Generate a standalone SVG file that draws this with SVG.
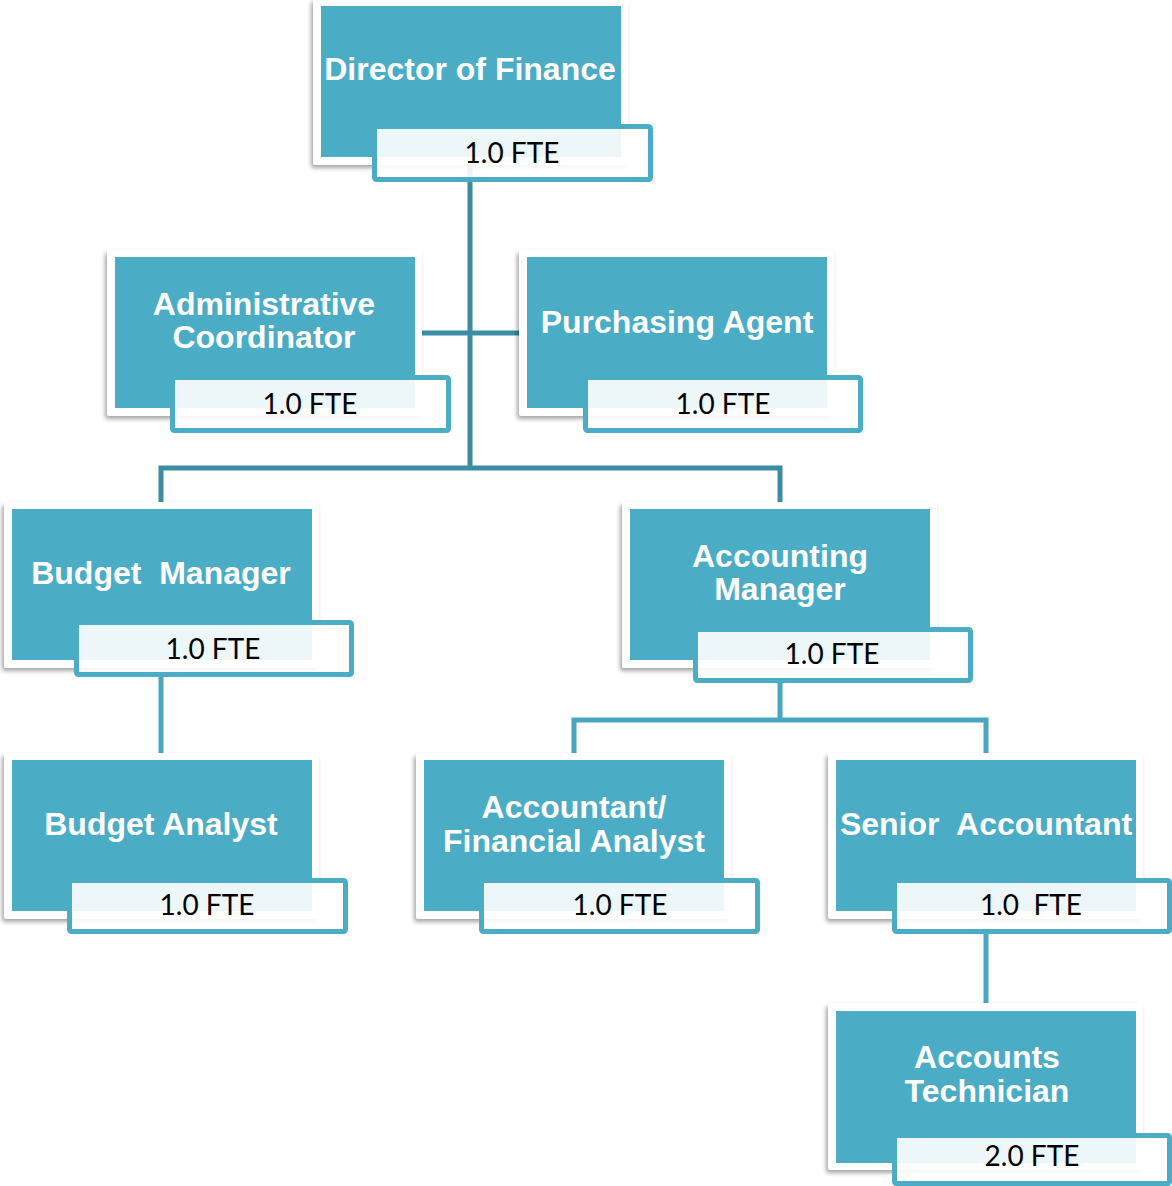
<svg xmlns="http://www.w3.org/2000/svg" width="1172" height="1186" viewBox="0 0 1172 1186">
<defs>
<filter id="sh" x="-10%" y="-10%" width="120%" height="125%">
<feDropShadow dx="-2" dy="3" stdDeviation="2" flood-color="#000" flood-opacity="0.35"/>
</filter>
<style>
.card{fill:#ffffff;filter:url(#sh)}
.teal{fill:#4BACC6}
.fte{fill:#ffffff;fill-opacity:0.9;stroke:#4BACC6;stroke-width:5}
.t{font-family:"Liberation Sans",Arial,sans-serif;font-weight:bold;font-size:32px;fill:#ffffff;text-anchor:middle;white-space:pre}
.f{font-family:Lato,"Open Sans",sans-serif;font-size:28px;fill:#000000;text-anchor:middle;white-space:pre}
.c1{stroke:#3C8CA3;stroke-width:5;fill:none}
.c2{stroke:#4AA5BF;stroke-width:5;fill:none}
</style>
</defs>
<rect width="1172" height="1186" fill="#ffffff"/>
<g id="connectors">
<path class="c1" d="M470 165V468M161 502V468H780V502M422 333H519"/>
<path class="c2" d="M161 677V753M780 683V720M574 753V720H986V753M986 934V1003"/>
</g>
<g id="director">
<rect class="card" x="313" y="-1" width="315" height="166" rx="3"/>
<rect class="teal" x="321" y="6" width="300" height="151"/>
<text class="t" x="470" y="80">Director of Finance</text>
<rect class="fte" x="374.5" y="126.5" width="276" height="53" rx="2"/>
<text class="f" x="512" y="163">1.0 FTE</text>
</g>
<g id="admin">
<rect class="card" x="107" y="250" width="315" height="166" rx="3"/>
<rect class="teal" x="115" y="257" width="300" height="151"/>
<text class="t" x="264" y="315">Administrative</text>
<text class="t" x="264" y="348">Coordinator</text>
<rect class="fte" x="172.5" y="377.5" width="276" height="53" rx="2"/>
<text class="f" x="310" y="414">1.0 FTE</text>
</g>
<g id="purchasing">
<rect class="card" x="519" y="250" width="315" height="166" rx="3"/>
<rect class="teal" x="527" y="257" width="300" height="151"/>
<text class="t" x="677" y="333">Purchasing Agent</text>
<rect class="fte" x="585.5" y="377.5" width="275" height="53" rx="2"/>
<text class="f" x="723" y="414">1.0 FTE</text>
</g>
<g id="budget-manager">
<rect class="card" x="4" y="502" width="315" height="166" rx="3"/>
<rect class="teal" x="12" y="509" width="300" height="151"/>
<text class="t" x="161" y="584">Budget  Manager</text>
<rect class="fte" x="76.5" y="622.5" width="275" height="52" rx="2"/>
<text class="f" x="213" y="659">1.0 FTE</text>
</g>
<g id="accounting-manager">
<rect class="card" x="622" y="502" width="315" height="166" rx="3"/>
<rect class="teal" x="630" y="509" width="300" height="151"/>
<text class="t" x="780" y="567">Accounting</text>
<text class="t" x="780" y="600">Manager</text>
<rect class="fte" x="695.5" y="629.5" width="275" height="51" rx="2"/>
<text class="f" x="832" y="664">1.0 FTE</text>
</g>
<g id="budget-analyst">
<rect class="card" x="4" y="753" width="315" height="166" rx="3"/>
<rect class="teal" x="12" y="760" width="300" height="151"/>
<text class="t" x="161" y="835">Budget Analyst</text>
<rect class="fte" x="69.5" y="880.5" width="276" height="51" rx="2"/>
<text class="f" x="207" y="915">1.0 FTE</text>
</g>
<g id="accountant-financial-analyst">
<rect class="card" x="416" y="753" width="315" height="166" rx="3"/>
<rect class="teal" x="424" y="760" width="300" height="151"/>
<text class="t" x="574" y="818">Accountant/</text>
<text class="t" x="574" y="852">Financial Analyst</text>
<rect class="fte" x="481.5" y="880.5" width="276" height="51" rx="2"/>
<text class="f" x="620" y="915">1.0 FTE</text>
</g>
<g id="senior-accountant">
<rect class="card" x="828" y="753" width="315" height="166" rx="3"/>
<rect class="teal" x="836" y="760" width="300" height="151"/>
<text class="t" x="986" y="835">Senior  Accountant</text>
<rect class="fte" x="894.5" y="880.5" width="275" height="51" rx="2"/>
<text class="f" x="1031" y="915">1.0  FTE</text>
</g>
<g id="accounts-technician">
<rect class="card" x="828" y="1003" width="315" height="167" rx="3"/>
<rect class="teal" x="836" y="1011" width="300" height="152"/>
<text class="t" x="987" y="1068">Accounts</text>
<text class="t" x="987" y="1102">Technician</text>
<rect class="fte" x="894.5" y="1135.5" width="275" height="48" rx="2"/>
<text class="f" x="1032" y="1166">2.0 FTE</text>
</g>
</svg>
